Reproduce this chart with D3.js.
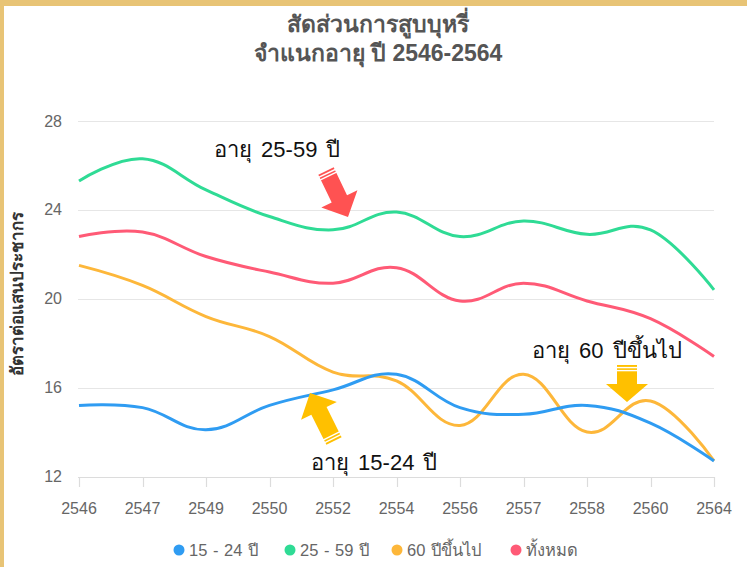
<!DOCTYPE html>
<html><head><meta charset="utf-8">
<script src="https://cdn.jsdelivr.net/npm/d3@7"></script>
<style>
html,body{margin:0;padding:0;background:#fff;}
svg{display:block;font-family:"Liberation Sans",Arial,"Noto Sans",sans-serif;}
</style></head>
<body>
<svg id="c" width="747" height="567"></svg>
<script>
const categories = ["2546","2547","2549","2550","2552","2554","2556","2557","2558","2560","2564"];
const age15to24 = [15.2,15.1,14.1,15.2,15.9,16.6,15.1,14.8,15.2,14.4,12.7];
const age25to59 = [25.3,26.3,24.9,23.7,23.1,23.9,22.8,23.5,22.9,23.1,20.4];
const age60plus = [21.5,20.6,19.2,18.3,16.7,16.3,14.3,16.6,14.0,15.4,12.7];
const allAges   = [22.8,23.0,21.9,21.2,20.7,21.4,19.9,20.7,19.9,19.1,17.4];
const yTicks = [12,16,20,24,28];
const seriesNames = ["15 - 24 ปี","25 - 59 ปี","60 ปีขึ้นไป","ทั้งหมด"];
const seriesColors = ["#2f9cf2","#2fdb95","#fdb73a","#ff5a76"];
const titleLines = ["สัดส่วนการสูบบุหรี่","จำแนกอายุ ปี 2546-2564"];
const yLabel = "อัตราต่อแสนประชากร";

const series = [age15to24, age25to59, age60plus, allAges];
const svg = d3.select("#c");

// frame
svg.append("rect").attr("x",0).attr("y",0).attr("width",747).attr("height",6).attr("fill","#e8c476");
svg.append("rect").attr("x",0).attr("y",0).attr("width",4).attr("height",567).attr("fill","#e8c476");

const x = d3.scalePoint().domain(categories).range([79,714]);
const y = d3.scaleLinear().domain([12,28]).range([476.5,121]);

// grid
svg.append("g").selectAll("line").data(yTicks).join("line")
  .attr("x1",78).attr("x2",714)
  .attr("y1",d=>Math.round(y(d))+0.5).attr("y2",d=>Math.round(y(d))+0.5)
  .attr("stroke",d=>d===12?"#dcdcdc":"#e6e6e6").attr("stroke-width",1.2);

// y tick labels
svg.append("g").selectAll("text").data(yTicks).join("text")
  .attr("x",62).attr("y",d=>y(d)).attr("dy","0.35em")
  .attr("text-anchor","end").attr("font-size",16).attr("fill","#666")
  .text(d=>d);

// x axis ticks
const xa = svg.append("g");
xa.selectAll("line").data(categories).join("line")
  .attr("x1",d=>Math.round(x(d))+0.5).attr("x2",d=>Math.round(x(d))+0.5)
  .attr("y1",477).attr("y2",487).attr("stroke","#dcdcdc").attr("stroke-width",1.2);
xa.selectAll("text").data(categories).join("text")
  .attr("x",d=>x(d)).attr("y",508).attr("dy","0.35em")
  .attr("text-anchor","middle").attr("font-size",16).attr("fill","#666")
  .text(d=>d);

// y label
svg.append("text")
  .attr("transform","translate(23,294) rotate(-90)")
  .attr("text-anchor","middle").attr("font-size",17).attr("font-weight","bold")
  .attr("fill","#333").text(yLabel);

// title
svg.append("g").selectAll("text").data(titleLines).join("text")
  .attr("x",378).attr("y",(d,i)=>32+i*29)
  .attr("text-anchor","middle").attr("font-size",23).attr("font-weight","bold")
  .attr("fill","#555").text(d=>d);

// lines
const line = d3.line()
  .x((d,i)=>x(categories[i])).y(d=>y(d))
  .curve(d3.curveCardinal.tension(-0.2));
const order = [3,2,1,0];
svg.append("g").selectAll("path").data(order).join("path")
  .attr("d",k=>line(series[k]))
  .attr("fill","none").attr("stroke",k=>seriesColors[k]).attr("stroke-width",3)
  .attr("stroke-linejoin","round");

// legend
const legendX = [179,290,397,516];
const lg = svg.append("g");
seriesNames.forEach((n,i)=>{
  lg.append("circle").attr("cx",legendX[i]).attr("cy",550).attr("r",5.5).attr("fill",seriesColors[i]);
  lg.append("text").attr("x",legendX[i]+10).attr("y",550).attr("dy","0.35em")
    .attr("font-size",16.5).attr("word-spacing",1).attr("fill","#666").text(n);
});

// annotation arrows
function arrow(tail, tip, shaftW, headW, headL, color){
  const dx=tip[0]-tail[0], dy=tip[1]-tail[1], L=Math.hypot(dx,dy);
  const ux=dx/L, uy=dy/L, nx=-uy, ny=ux;
  const nk=[tip[0]-ux*headL, tip[1]-uy*headL];
  const p=(b,s)=>[b[0]+nx*s, b[1]+ny*s];
  const pts=[p(tail,shaftW/2),p(nk,shaftW/2),p(nk,headW/2),tip,p(nk,-headW/2),p(nk,-shaftW/2),p(tail,-shaftW/2)];
  const g=svg.append("g");
  g.append("polygon").attr("points",pts.map(q=>q.join(",")).join(" ")).attr("fill",color);
  [2.6,5.6].forEach(t=>{
    const c=[tail[0]+ux*t, tail[1]+uy*t];
    const a=p(c,shaftW/2+1), b=p(c,-shaftW/2-1);
    g.append("line").attr("x1",a[0]).attr("y1",a[1]).attr("x2",b[0]).attr("y2",b[1])
      .attr("stroke","#fff").attr("stroke-width",1.4);
  });
}
arrow([326,171],[348,217],17,40,20,"#ff5252");
arrow([334,441],[310,393],17,40,20,"#ffc000");
arrow([627,365],[627,402],20,42,18,"#ffc000");

// annotation texts
const notes = [["อายุ 25-59 ปี",214,157],["อายุ 15-24 ปี",311,470],["อายุ 60 ปีขึ้นไป",532,358]];
svg.append("g").selectAll("text").data(notes).join("text")
  .attr("x",d=>d[1]).attr("y",d=>d[2]).attr("font-size",22).attr("word-spacing",3)
  .attr("fill","#111")
  .text(d=>d[0]);
</script>
</body></html>
